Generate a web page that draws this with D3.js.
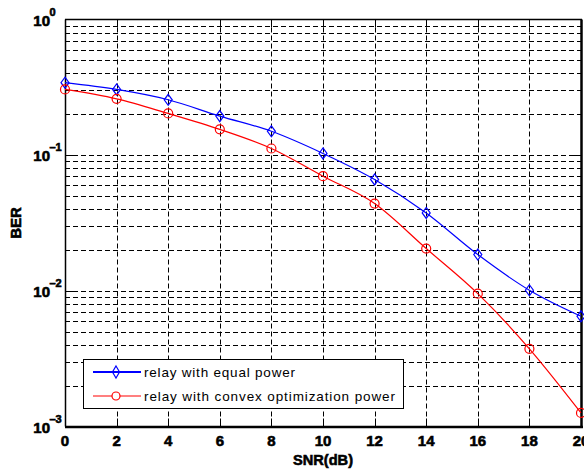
<!DOCTYPE html>
<html>
<head>
<meta charset="utf-8">
<script src="https://cdn.jsdelivr.net/npm/d3@7"></script>
<style>
  html, body { margin: 0; padding: 0; background: #fff; }
  svg { display: block; }
  text { font-family: "Liberation Sans", Arial, sans-serif; }
  .heavy { stroke: #000; stroke-width: 0.6; }
</style>
</head>
<body>
<svg id="chart" width="584" height="472"></svg>
<script>
// SNR points (dB)
const snr = [0, 2, 4, 6, 8, 10, 12, 14, 16, 18, 20];
// Bit error rate, equal power relay
const berEqual = [0.342, 0.305, 0.256, 0.194, 0.150, 0.103, 0.0662, 0.0375, 0.0185, 0.0101, 0.00649];
// Bit error rate, convex optimization power relay
const berConvex = [0.305, 0.260, 0.203, 0.155, 0.112, 0.070, 0.044, 0.0205, 0.00953, 0.00374, 0.00126];
const xTicks = [0, 2, 4, 6, 8, 10, 12, 14, 16, 18, 20];
const yDecades = [-3, -2, -1, 0];
const seriesNames = ["relay with equal power", "relay with convex optimization power"];
const xLabel = "SNR(dB)";
const yLabel = "BER";

const svg = d3.select("#chart");
const L = 65, R = 581, T = 19.5, B = 426.5;

const x = d3.scaleLinear().domain([0, 20]).range([L, R]);
const y = d3.scaleLog().domain([1e-3, 1]).range([B, T]);

// grid lines
const grid = svg.append("g").attr("stroke", "#000").attr("stroke-width", 1)
  .attr("stroke-dasharray", "5,3").attr("fill", "none");

const minorVals = [];
for (let e = -3; e < 0; e++) {
  for (let m = 1; m <= 9; m++) minorVals.push(m * Math.pow(10, e));
}
minorVals.forEach(v => {
  if (v <= 1e-3) return;
  const yy = Math.round(y(v)) + 0.5;
  grid.append("line").attr("x1", L).attr("x2", R).attr("y1", yy).attr("y2", yy);
});
xTicks.slice(1, -1).forEach(t => {
  const xx = Math.round(x(t)) + 0.5;
  grid.append("line").attr("x1", xx).attr("x2", xx).attr("y1", T).attr("y2", B);
});

// tick marks on all sides
const ticks = svg.append("g").attr("stroke", "#000").attr("stroke-width", 1);
minorVals.forEach(v => {
  const yy = Math.round(y(v)) + 0.5;
  const len = Math.abs(Math.log10(v) - Math.round(Math.log10(v))) < 1e-9 ? 8 : 4;
  ticks.append("line").attr("x1", L).attr("x2", L + len).attr("y1", yy).attr("y2", yy);
  ticks.append("line").attr("x1", R - len).attr("x2", R).attr("y1", yy).attr("y2", yy);
});
xTicks.forEach(t => {
  const xx = Math.round(x(t)) + 0.5;
  ticks.append("line").attr("x1", xx).attr("x2", xx).attr("y1", B - 8).attr("y2", B);
  ticks.append("line").attr("x1", xx).attr("x2", xx).attr("y1", T).attr("y2", T + 8);
});

// frame
svg.append("line").attr("x1", L).attr("x2", R + 1).attr("y1", T).attr("y2", T)
  .attr("stroke", "#000").attr("stroke-width", 1.5);
svg.append("line").attr("x1", L + 0.5).attr("x2", L + 0.5).attr("y1", T).attr("y2", B)
  .attr("stroke", "#000").attr("stroke-width", 1.5);
svg.append("line").attr("x1", L).attr("x2", R + 2).attr("y1", B + 0.5).attr("y2", B + 0.5)
  .attr("stroke", "#000").attr("stroke-width", 2.5);
svg.append("line").attr("x1", R + 0.5).attr("x2", R + 0.5).attr("y1", T).attr("y2", B)
  .attr("stroke", "#000").attr("stroke-width", 2.5);

// x tick labels
svg.append("g").selectAll("text").data(xTicks).join("text")
  .attr("class", "heavy")
  .attr("x", d => x(d)).attr("y", 446)
  .attr("text-anchor", "middle").attr("font-weight", "bold").attr("font-size", 15)
  .attr("fill", "#000").text(d => d);

// y tick labels 10^k
const yl = svg.append("g").attr("fill", "#000").attr("font-weight", "bold");
yDecades.forEach(e => {
  const yy = y(Math.pow(10, e));
  yl.append("text").attr("class", "heavy").attr("x", 50).attr("y", yy + 6)
    .attr("text-anchor", "end").attr("font-size", 15).text("10");
  yl.append("text").attr("class", "heavy").attr("x", 49.5).attr("y", yy - 4)
    .attr("font-size", 11).text(e === 0 ? "0" : String(e).replace("-", "\u2013"));
});

// axis titles
svg.append("text").attr("class", "heavy").attr("x", (L + R) / 2).attr("y", 465)
  .attr("text-anchor", "middle").attr("font-weight", "bold").attr("font-size", 15)
  .attr("textLength", 60).attr("lengthAdjust", "spacingAndGlyphs").text(xLabel);
svg.append("text").attr("class", "heavy").attr("transform", `translate(21,${(T + B) / 2}) rotate(-90)`)
  .attr("text-anchor", "middle").attr("font-weight", "bold").attr("font-size", 15)
  .text(yLabel);

// curves
const line = d3.line().x(d => x(d[0])).y(d => y(d[1])).curve(d3.curveMonotoneX);
const dataEq = snr.map((s, i) => [s, berEqual[i]]);
const dataCv = snr.map((s, i) => [s, berConvex[i]]);

svg.append("path").datum(dataEq).attr("d", line)
  .attr("fill", "none").attr("stroke", "#0000ff").attr("stroke-width", 1.2);
svg.append("path").datum(dataCv).attr("d", line)
  .attr("fill", "none").attr("stroke", "#ff0000").attr("stroke-width", 1.2);

function diamond(g, cx, cy, w, h) {
  g.append("path")
    .attr("d", `M${cx},${cy - h / 2}L${cx + w / 2},${cy}L${cx},${cy + h / 2}L${cx - w / 2},${cy}Z`)
    .attr("fill", "none").attr("stroke", "#0000ff").attr("stroke-width", 1.2);
}
const mk = svg.append("g");
dataEq.forEach(d => diamond(mk, x(d[0]), y(d[1]), 8, 11));
mk.selectAll("circle").data(dataCv).join("circle")
  .attr("cx", d => x(d[0])).attr("cy", d => y(d[1])).attr("r", 4.5)
  .attr("fill", "none").attr("stroke", "#ff0000").attr("stroke-width", 1.2);

// legend
const lg = svg.append("g");
lg.append("rect").attr("x", 83.5).attr("y", 359.5).attr("width", 320).attr("height", 49)
  .attr("fill", "#fff").attr("stroke", "#000").attr("stroke-width", 1);
lg.append("line").attr("x1", 93).attr("x2", 141).attr("y1", 372).attr("y2", 372)
  .attr("stroke", "#0000ff").attr("stroke-width", 2);
diamond(lg, 116, 372, 7, 12);
lg.append("line").attr("x1", 93).attr("x2", 141).attr("y1", 396).attr("y2", 396)
  .attr("stroke", "#ff0000").attr("stroke-width", 1.2);
lg.append("circle").attr("cx", 116).attr("cy", 396).attr("r", 4)
  .attr("fill", "#fff").attr("stroke", "#ff0000").attr("stroke-width", 1.2);
lg.append("text").attr("x", 144).attr("y", 377).attr("font-size", 13.5).attr("fill", "#000")
  .attr("textLength", 151).attr("lengthAdjust", "spacing").text(seriesNames[0]);
lg.append("text").attr("x", 144).attr("y", 401).attr("font-size", 13.5).attr("fill", "#000")
  .attr("textLength", 251).attr("lengthAdjust", "spacing").text(seriesNames[1]);
</script>
</body>
</html>
